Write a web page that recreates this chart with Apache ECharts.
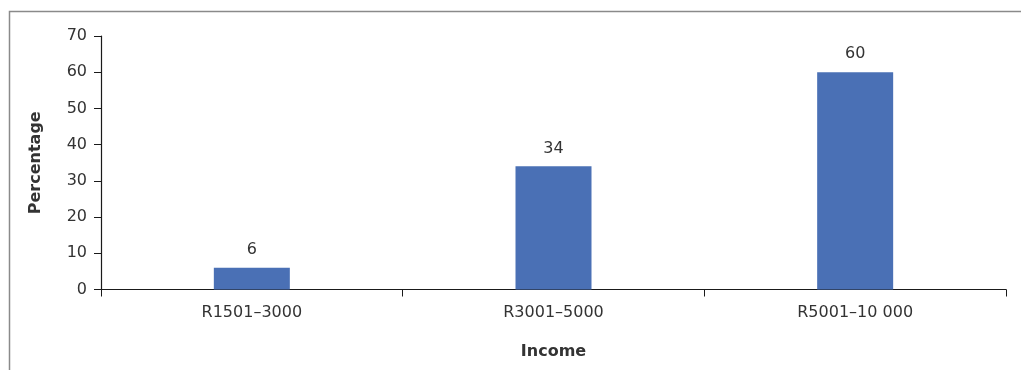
<!DOCTYPE html>
<html>
<head>
<meta charset="utf-8">
<script src="https://cdn.jsdelivr.net/npm/echarts@6/dist/echarts.min.js"></script>
<style>
  html, body { margin: 0; padding: 0; background: #fff; }
  #chart { width: 1021px; height: 370px; }
</style>
</head>
<body>
<div id="chart"></div>
<script>
// Share of respondents by monthly income band
const categories = ['R1501–3000', 'R3001–5000', 'R5001–10 000'];
const percentages = [6, 34, 60];
const yTicks = { min: 0, max: 70, interval: 10 };

const FONT = 'DejaVu Sans';
const TEXT = '#333333';
const SIZE = 16;

const chart = echarts.init(document.getElementById('chart'), null, { renderer: 'canvas' });

chart.setOption({
  animation: false,
  backgroundColor: '#ffffff',
  graphic: [{
    type: 'rect',
    silent: true,
    shape: { x: 9.5, y: 11.5, width: 1100, height: 500 },
    style: { fill: 'none', stroke: '#8a8a8a', lineWidth: 1.5 }
  }],
  grid: { left: 101, right: 15, top: 36, bottom: 80.5 },
  xAxis: {
    type: 'category',
    data: categories,
    boundaryGap: true,
    name: 'Income',
    nameLocation: 'middle',
    nameGap: 54,
    nameTextStyle: { fontFamily: FONT, fontSize: SIZE, fontWeight: 'bold', color: TEXT },
    axisLine: { lineStyle: { color: '#1a1a1a', width: 1.2 } },
    axisTick: { show: true, length: 7, alignWithLabel: false, lineStyle: { color: '#1a1a1a' } },
    axisLabel: { fontFamily: FONT, fontSize: SIZE, color: TEXT, margin: 15 }
  },
  yAxis: {
    type: 'value',
    min: yTicks.min,
    max: yTicks.max,
    interval: yTicks.interval,
    name: 'Percentage',
    nameLocation: 'middle',
    nameGap: 57,
    nameRotate: 90,
    nameTextStyle: { fontFamily: FONT, fontSize: SIZE, fontWeight: 'bold', color: TEXT },
    axisLine: { show: true, lineStyle: { color: '#1a1a1a', width: 1.2 } },
    axisTick: { show: true, length: 7, lineStyle: { color: '#1a1a1a' } },
    axisLabel: { fontFamily: FONT, fontSize: SIZE, color: TEXT, margin: 14 },
    splitLine: { show: false }
  },
  series: [{
    type: 'bar',
    data: percentages,
    barWidth: 76,
    itemStyle: { color: '#4a70b5' },
    label: {
      show: true,
      position: 'top',
      distance: 10,
      fontFamily: FONT,
      fontSize: SIZE,
      color: TEXT
    }
  }]
});
</script>
</body>
</html>
